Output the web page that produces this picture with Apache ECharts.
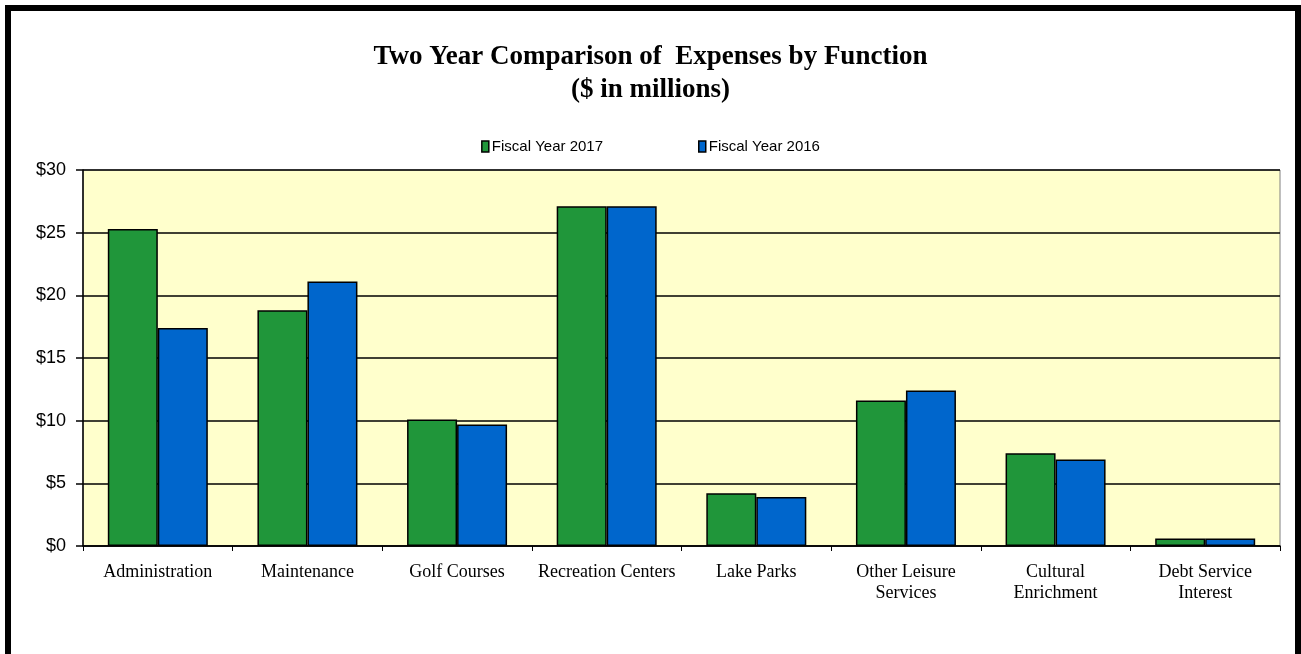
<!DOCTYPE html>
<html>
<head>
<meta charset="utf-8">
<script src="https://cdn.jsdelivr.net/npm/echarts@6/dist/echarts.min.js"></script>
<style>html,body{margin:0;padding:0;background:#fff;}#c{width:1301px;height:654px;}</style>
</head>
<body>
<div id="c"></div>
<script>
var categories = ['Administration','Maintenance','Golf Courses','Recreation Centers','Lake Parks','Other Leisure\nServices','Cultural\nEnrichment','Debt Service\nInterest'];
var fy2017 = [25.3, 18.8, 10.1, 27.1, 4.2, 11.6, 7.4, 0.6];
var fy2016 = [17.4, 21.1, 9.7, 27.1, 3.9, 12.4, 6.9, 0.6];
var yTicks = [0, 5, 10, 15, 20, 25, 30];

var chart = echarts.init(document.getElementById('c'));
chart.setOption({
  animation: false,
  backgroundColor: '#fff',
  title: {
    text: 'Two Year Comparison of  Expenses by Function\n($ in millions)',
    left: 'center', top: 36,
    textStyle: {fontFamily: 'Liberation Serif', fontWeight: 'bold', fontSize: 27, color: '#000', lineHeight: 33}
  },
  legend: {
    top: 134, left: 'center', itemGap: 95, itemWidth: 7, itemHeight: 11, icon: 'rect',
    textStyle: {fontFamily: 'Liberation Sans', fontSize: 15, color: '#000', padding: [0,0,0,-2]},
    data: [{name:'Fiscal Year 2017', itemStyle:{borderColor:'#000', borderWidth:1.5}}, {name:'Fiscal Year 2016', itemStyle:{borderColor:'#000', borderWidth:1.5}}]
  },
  grid: {left: 83, right: 21, top: 170, bottom: 108, show: true, backgroundColor: '#FFFFCC', borderColor: '#808080', borderWidth: 1},
  xAxis: {
    type: 'category', data: categories,
    axisLine: {lineStyle: {color: '#000', width: 1.5}},
    axisTick: {show: true, length: 5, lineStyle: {color: '#000'}},
    axisLabel: {fontFamily: 'Liberation Serif', fontSize: 18, color: '#000', lineHeight: 21, margin: 16, interval: 0}
  },
  yAxis: {
    type: 'value', min: yTicks[0], max: yTicks[yTicks.length-1], interval: 5,
    axisLine: {show: true, lineStyle: {color: '#000', width: 1.5}},
    axisTick: {show: true, length: 7, lineStyle: {color: '#000', width: 1.5}},
    axisLabel: {fontFamily: 'Liberation Sans', fontSize: 18, color: '#000', margin: 17, formatter: function(v){return '$' + v;}},
    splitLine: {lineStyle: {color: '#000', width: 1.5}}
  },
  series: [
    {name: 'Fiscal Year 2017', type: 'bar', data: fy2017, barWidth: 50, barGap: '0%', itemStyle: {color: '#20963A', borderColor: '#000', borderWidth: 1.5}},
    {name: 'Fiscal Year 2016', type: 'bar', data: fy2016, barWidth: 50, barGap: '0%', itemStyle: {color: '#0066CC', borderColor: '#000', borderWidth: 1.5}}
  ],
  graphic: [{type: 'rect', shape: {x: 8, y: 8, width: 1290, height: 660}, style: {fill: 'none', stroke: '#000', lineWidth: 6}, z: 100}]
});
</script>
</body>
</html>
